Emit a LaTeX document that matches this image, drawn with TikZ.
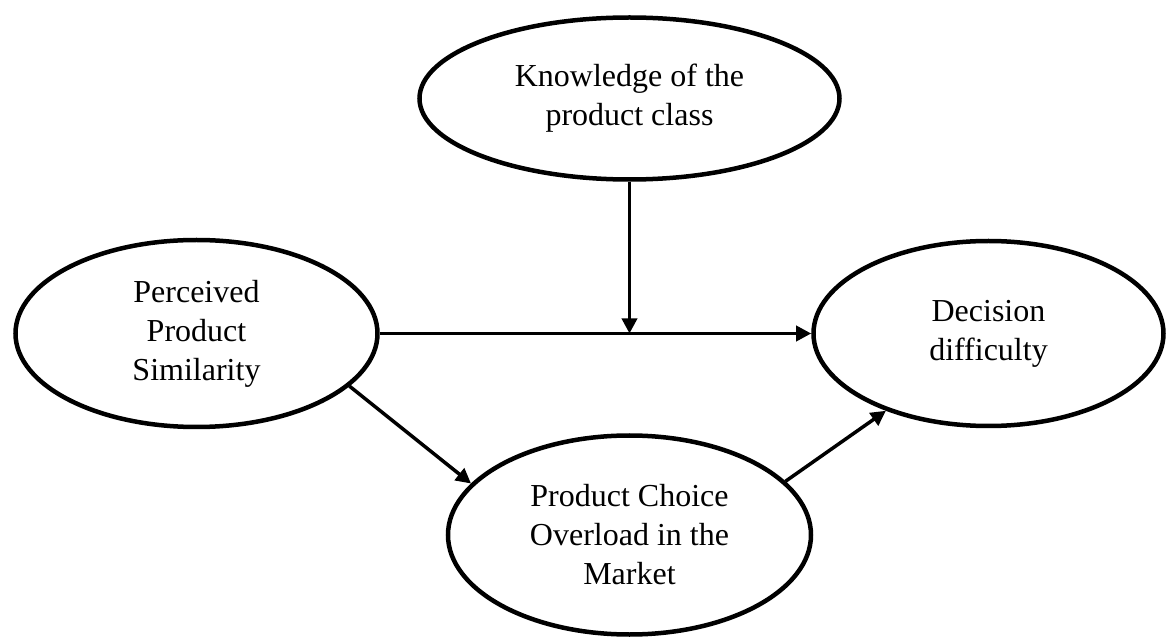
\documentclass[tikz,border=0pt]{standalone}
\usepackage{fontspec}
\setmainfont{Liberation Serif}
\usetikzlibrary{shapes.geometric,positioning,arrows.meta}
\tikzset{
  concept/.style={ellipse, draw, line width=4.5pt, inner sep=0pt, align=center, font=\fontsize{32}{39}\selectfont},
  link/.style={line width=3.5pt, -{Triangle[length=15pt,width=15pt]}}
}

\begin{document}
\begin{tikzpicture}[on grid]
  \useasboundingbox (-629.5pt,98.5pt) rectangle (538.5pt,-540.5pt);

  % Define nodes
  \node[concept, minimum width=420pt, minimum height=162pt] (Knowledge) {Knowledge of the\\product class};
  \node[concept, minimum width=362pt, minimum height=187pt, below left=235pt and 433pt of Knowledge] (Similarity) {Perceived\\Product\\Similarity};
  \node[concept, minimum width=350pt, minimum height=185pt, below right=235pt and 359pt of Knowledge] (Decision) {Decision\\difficulty};
  \node[concept, minimum width=363pt, minimum height=199pt, below=436.5pt of Knowledge] (Overload) {Product Choice\\Overload in the\\Market};

  % Connect the nodes
  \coordinate (Join) at (Knowledge.south |- Similarity.east);
  \draw[link] (Similarity.east) -- (Decision.west);
  \draw[link] (Knowledge.south) -- (Join);
  \draw[link] (Similarity.-19) -- (Overload.162);
  \draw[link] (Overload.19) -- (Decision.217);
\end{tikzpicture}
\end{document}
